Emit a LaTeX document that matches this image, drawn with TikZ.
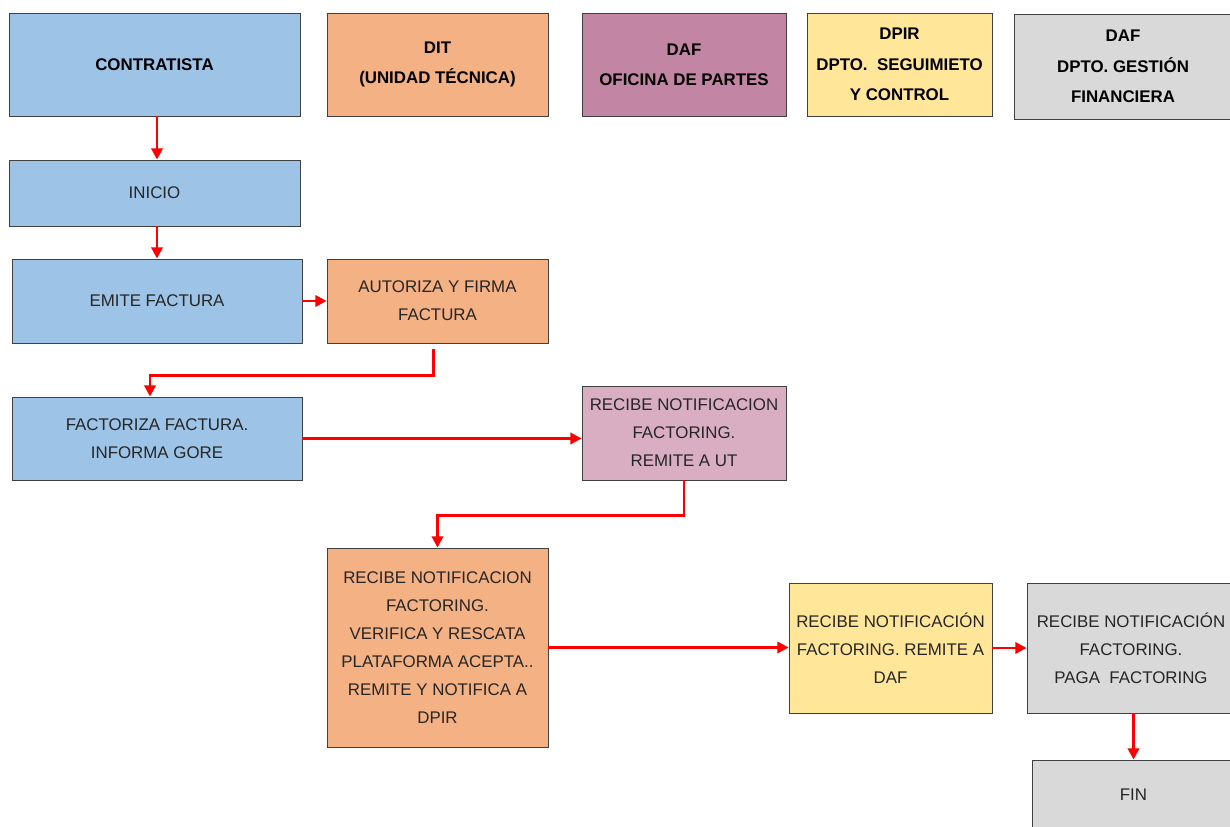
\documentclass[tikz,border=0pt]{standalone}
\usepackage{fontspec}
\setmainfont{Liberation Sans}
\usetikzlibrary{arrows.meta}

\definecolor{azul}{HTML}{9DC3E6}
\definecolor{naranja}{HTML}{F4B183}
\definecolor{malva}{HTML}{C285A3}
\definecolor{rosa}{HTML}{D9AEC2}
\definecolor{amarillo}{HTML}{FFE699}
\definecolor{gris}{HTML}{D9D9D9}

\begin{document}
\begin{tikzpicture}[
    box/.style={rectangle, draw=black!75, line width=0.6pt, align=center, inner sep=2pt, text=black!85, font=\fontsize{12}{20}\selectfont},
    header/.style={box, text=black, font=\fontsize{12}{21.5}\selectfont\bfseries},
    arrow/.style={-{Triangle[length=8pt,width=8pt]}, red, line width=2pt}
]
    \useasboundingbox (0,0) rectangle (30.75,-20.675);

    % cabeceras
    \node[header, fill=azul, minimum width=7.275cm, minimum height=2.575cm] (contratista) at (3.8625,-1.6125) {CONTRATISTA};
    \node[header, fill=naranja, minimum width=5.525cm, minimum height=2.575cm] (dit) at (10.9375,-1.6125) {DIT\\(UNIDAD TÉCNICA)};
    \node[header, fill=malva, minimum width=5.1cm, minimum height=2.575cm] (dafop) at (17.1,-1.6125) {DAF\\OFICINA DE PARTES};
    \node[header, fill=amarillo, minimum width=4.625cm, minimum height=2.575cm] (dpir) at (22.4875,-1.6125) {DPIR\\DPTO.\ \ SEGUIMIETO\\Y CONTROL};
    \node[header, fill=gris, minimum width=5.45cm, minimum height=2.625cm] (dafgf) at (28.075,-1.6625) {DAF\\DPTO. GESTIÓN\\FINANCIERA};

    % pasos
    \node[box, fill=azul, minimum width=7.275cm, minimum height=1.65cm] (inicio) at (3.8625,-4.825) {INICIO};
    \node[box, fill=azul, minimum width=7.25cm, minimum height=2.1cm] (emite) at (3.925,-7.525) {EMITE FACTURA};
    \node[box, fill=naranja, minimum width=5.525cm, minimum height=2.1cm] (autoriza) at (10.9375,-7.525) {AUTORIZA Y FIRMA\\FACTURA};
    \node[box, fill=azul, minimum width=7.25cm, minimum height=2.075cm] (factoriza) at (3.925,-10.9625) {FACTORIZA FACTURA.\\INFORMA GORE};
    \node[box, fill=rosa, minimum width=5.1cm, minimum height=2.35cm] (recibeop) at (17.1,-10.825) {RECIBE NOTIFICACION\\FACTORING.\\REMITE A UT};
    \node[box, fill=naranja, minimum width=5.525cm, minimum height=4.975cm] (recibedit) at (10.9375,-16.1875) {RECIBE NOTIFICACION\\FACTORING.\\VERIFICA Y RESCATA\\PLATAFORMA ACEPTA..\\REMITE Y NOTIFICA A\\DPIR};
    \node[box, fill=amarillo, minimum width=5.075cm, minimum height=3.25cm] (recibedpir) at (22.2625,-16.2) {RECIBE NOTIFICACIÓN\\FACTORING. REMITE A\\DAF};
    \node[box, fill=gris, minimum width=5.2cm, minimum height=3.25cm] (recibegf) at (28.275,-16.2) {RECIBE NOTIFICACIÓN\\FACTORING.\\PAGA\ \ FACTORING};
    \node[box, fill=gris, minimum width=5.075cm, minimum height=1.75cm] (fin) at (28.3375,-19.875) {FIN};

    % flechas
    \draw[arrow] (emite.north |- contratista.south) -- (emite.north |- inicio.north);
    \draw[arrow] (emite.north |- inicio.south) -- (emite.north);
    \draw[arrow] (emite) -- (autoriza);
    \draw[arrow] ([xshift=-0.11cm, yshift=-4pt]autoriza.south) -- ++(0,-0.66) -| ([xshift=-0.175cm]factoriza.north);
    \draw[arrow] (factoriza.east) -- (factoriza.east -| recibeop.west);
    \draw[arrow] (recibeop.south) -- ++(0,-0.875) -| (recibedit.north);
    \draw[arrow] (recibedit.east) -- (recibedit.east -| recibedpir.west);
    \draw[arrow] (recibedpir) -- (recibegf);
    \draw[arrow] (recibegf.south -| fin.north) -- (fin.north);
\end{tikzpicture}
\end{document}
